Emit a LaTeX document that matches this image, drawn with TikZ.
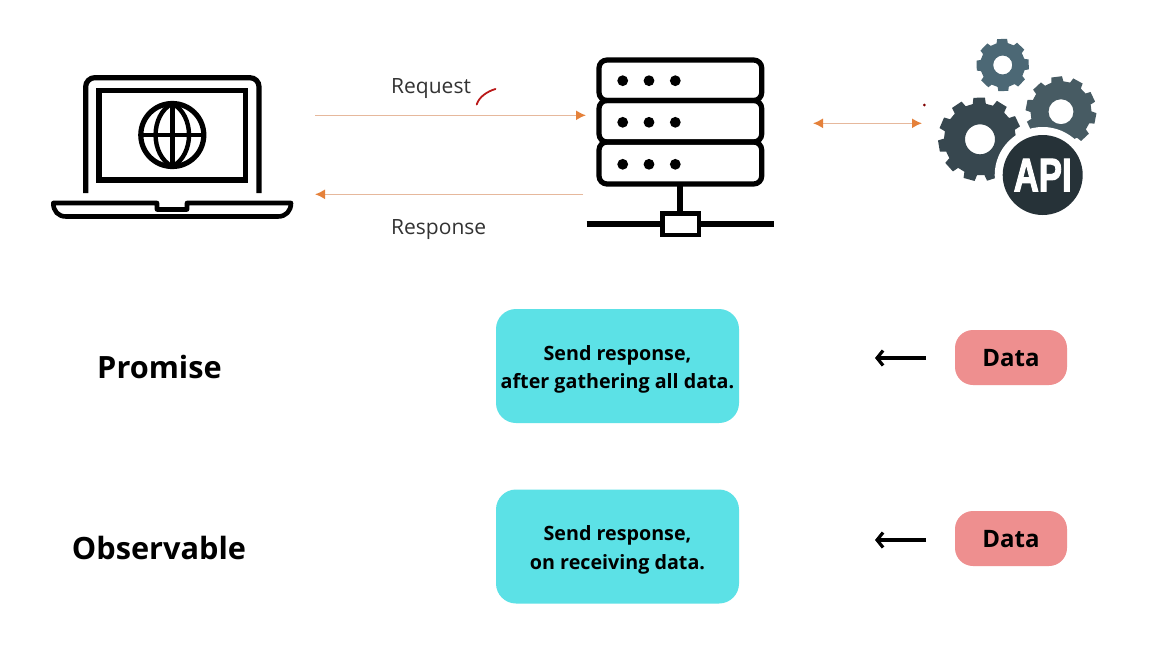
\documentclass[tikz,border=0pt]{standalone}
\usepackage{fontspec}
\setmainfont{Open Sans}
\newfontfamily\apifont[BoldFeatures={FakeBold=2.5}]{Liberation Sans}
\usetikzlibrary{arrows.meta}
\definecolor{bluebox}{HTML}{5CE1E6}
\definecolor{redbox}{HTML}{EE8F8F}
\definecolor{orangetip}{HTML}{E5813A}
\definecolor{orangeline}{HTML}{E6B89C}
\definecolor{gearA}{HTML}{4C6875}
\definecolor{gearB}{HTML}{475B63}
\definecolor{gearC}{HTML}{37474F}
\definecolor{apidark}{HTML}{263238}
\tikzset{
  icon/.style={draw=black,line width=5.2pt},
  sendbox/.style={fill=bluebox,rounded corners=20pt,minimum width=243pt,minimum height=114pt,inner sep=0pt},
  sendtext/.style={align=center,inner sep=0pt,font=\fontsize{19.7}{28.5}\selectfont\bfseries},
  databox/.style={fill=redbox,rounded corners=18pt,minimum width=112pt,minimum height=55pt,inner sep=0pt},
  datatext/.style={inner sep=0pt,font=\fontsize{24}{28}\selectfont\bfseries},
  heading/.style={font=\fontsize{30.7}{36}\selectfont\bfseries,inner sep=0pt,anchor=center},
  flowlabel/.style={font=\fontsize{21}{25}\selectfont,text=black!80,inner sep=0pt,anchor=base west},
  flow/.style={draw=orangeline,line width=1.6pt},
  flowtip/.style={-{Latex[length=10pt,width=10pt,color=orangetip]}},
  flowtips/.style={{Latex[length=10pt,width=10pt,color=orangetip]}-{Latex[length=10pt,width=10pt,color=orangetip]}},
  dataarrow/.style={draw=black,line width=3.2pt,-{Straight Barb[length=6pt,width=15pt,line width=3.2pt]}}
}
% \gearshape{cx}{cy}{outer}{root}{teeth}{hole}{colour}{rotation}
\newcommand{\gearshape}[8]{%
  \pgfmathsetmacro{\gstep}{360/#5}%
  \fill[#7,even odd rule]
    ({#1+#3*cos(#8-0.27*\gstep)},{#2+#3*sin(#8-0.27*\gstep)})
    \foreach \gi in {1,...,#5}{
      -- ({#1+#3*cos(#8+(\gi-1)*\gstep+0.21*\gstep)},{#2+#3*sin(#8+(\gi-1)*\gstep+0.21*\gstep)})
      -- ({#1+#4*cos(#8+(\gi-1)*\gstep+0.29*\gstep)},{#2+#4*sin(#8+(\gi-1)*\gstep+0.29*\gstep)})
      -- ({#1+#4*cos(#8+(\gi-1)*\gstep+0.65*\gstep)},{#2+#4*sin(#8+(\gi-1)*\gstep+0.65*\gstep)})
      -- ({#1+#3*cos(#8+(\gi-1)*\gstep+0.73*\gstep)},{#2+#3*sin(#8+(\gi-1)*\gstep+0.73*\gstep)})
    } -- cycle
    (#1,#2) circle[radius=#6];%
}
\begin{document}
\begin{tikzpicture}[x=1pt,y=-1pt]
\path[use as bounding box,fill=white] (0,0) rectangle (1152,648);

% laptop
\draw[icon,rounded corners=9pt] (85.7,193) -- (85.7,77.7) -- (259,77.7) -- (259,193);
\draw[icon] (99,90.7) rectangle (245.7,180);
\draw[icon] (172.3,135) circle[radius=31.5];
\draw[icon,line width=4.6pt] (172.3,103.5) -- (172.3,166.5);
\draw[icon,line width=4.6pt] (140.8,135) -- (203.8,135);
\draw[icon,line width=4.4pt] (172.3,103.5) .. controls (150,115) and (150,155) .. (172.3,166.5);
\draw[icon,line width=4.4pt] (172.3,103.5) .. controls (194.6,115) and (194.6,155) .. (172.3,166.5);
\draw[icon,line width=4.6pt,line join=round] (53.3,203) -- (157,203) -- (157,209.5) -- (187,209.5) -- (187,203) -- (291,203)
  .. controls (291,211) and (286,216.5) .. (278,216.5) -- (66,216.5) .. controls (58,216.5) and (53.3,211) .. (53.3,203) -- cycle;

% server
\draw[icon] (680,184) -- (680,213);
\draw[icon] (586.7,224) -- (774.3,224);
\draw[icon,fill=white,line width=4.6pt] (662.3,213.5) rectangle (699,235);
\draw[icon,rounded corners=8pt] (599,60) rectangle (761.7,100.5);
\draw[icon,rounded corners=8pt] (599,100.5) rectangle (761.7,142);
\draw[icon,rounded corners=8pt] (599,142) rectangle (761.7,184);
\foreach \dy in {80.7,122.3,164.3}
  \foreach \dx in {622.7,649,675.3}
    \fill[black] (\dx,\dy) circle[radius=5.4];

% gears and API badge
\gearshape{1002.7}{65}{26.5}{22.5}{8}{9.5}{gearA}{0}
\gearshape{1061}{111.7}{35.5}{30.5}{10}{12.5}{gearB}{12}
\gearshape{980}{139.3}{42}{36}{11}{15}{gearC}{8}
\fill[white] (1042.7,175) circle[radius=48];
\node[circle,fill=apidark,minimum size=80pt,inner sep=0pt] (api) at (1042.7,175) {};
\node[text=white,inner sep=0pt] (apitext) at (1042.7,175) {\scalebox{0.74}[1]{\apifont\fontsize{47}{47}\selectfont\bfseries API}};

% top connectors
\coordinate (reqA) at (315,115.3);
\coordinate (reqB) at (586,115.3);
\coordinate (resA) at (583,194.3);
\coordinate (resB) at (315,194.3);
\coordinate (apiA) at (813,123.3);
\coordinate (apiB) at (922,123.3);
\draw[flow,flowtip] (reqA) -- (reqB);
\draw[flow,flowtip] (resA) -- (resB);
\draw[flow,flowtips] (apiA) -- (apiB);
\node[flowlabel] (request) at (391,93.5) {Request};
\node[flowlabel] (response) at (391,234) {Response};
\draw[draw=red!70!black!90,line width=1.8pt,line cap=round] (476.7,104.5) .. controls (479,97) and (487,91.5) .. (495.5,89);
\fill[red!50!black] (924.3,105) circle[radius=1.5];

% lower rows
\node[heading] (promise) at (159.5,367) {Promise};
\node[heading] (observable) at (159,547.5) {Observable};
\node[sendbox] (sendP) at (617.5,366) {};
\node[sendbox] (sendO) at (617.5,546.5) {};
\node[sendtext] (textP) at (617.5,369.5) {Send response,\\after gathering all data.};
\node[sendtext] (textO) at (617.5,550) {Send response,\\on receiving data.};
\node[databox] (dataP) at (1011,357.5) {};
\node[databox] (dataO) at (1011,538.5) {};
\node[datatext] (labelP) at (1011,358.5) {Data};
\node[datatext] (labelO) at (1011,539.5) {Data};
\coordinate (arrPa) at (926,358);
\coordinate (arrPb) at (875,358);
\coordinate (arrOa) at (926,540);
\coordinate (arrOb) at (875,540);
\draw[dataarrow] (arrPa) -- (arrPb);
\draw[dataarrow] (arrOa) -- (arrOb);
\end{tikzpicture}
\end{document}
